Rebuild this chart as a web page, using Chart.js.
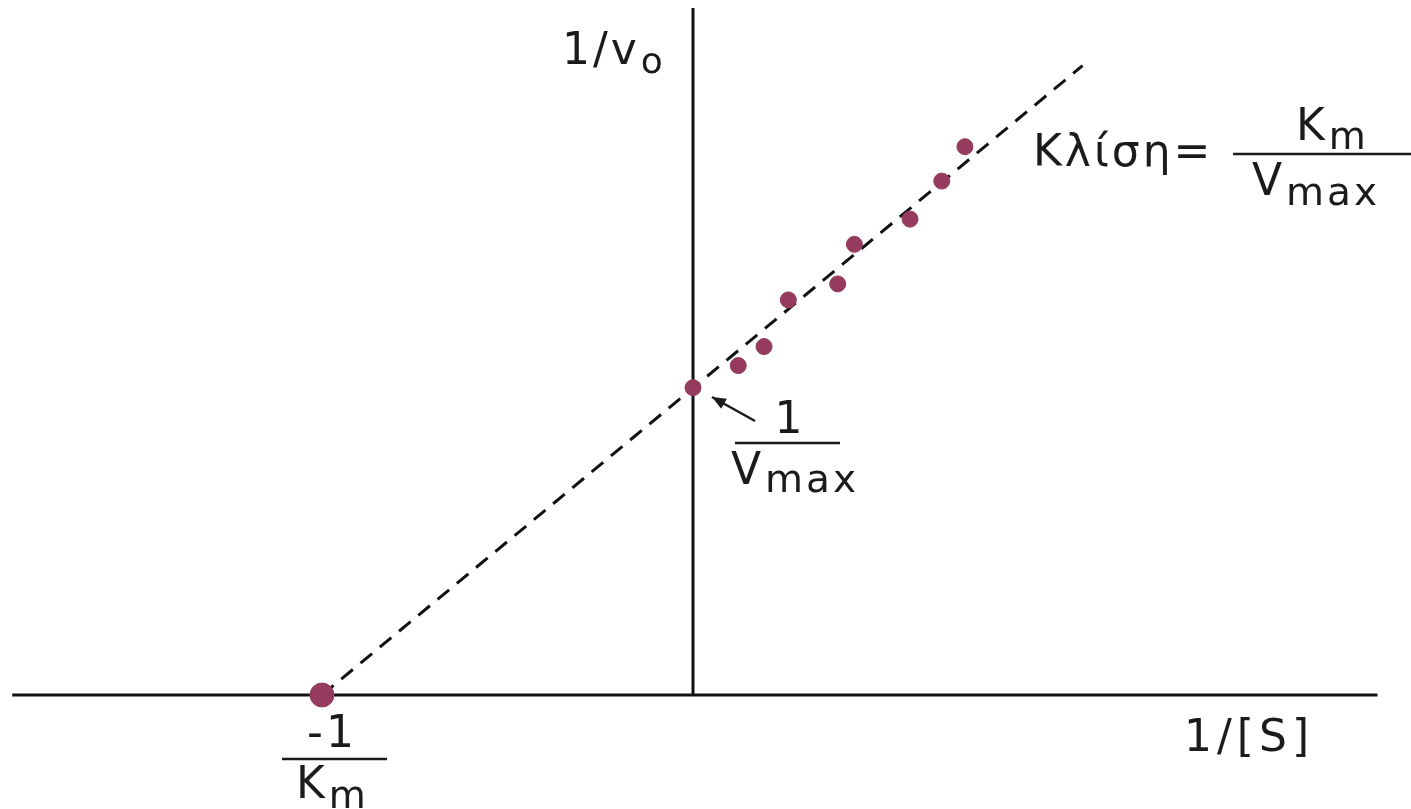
<!DOCTYPE html>
<html>
<head>
<meta charset="utf-8">
<script src="https://cdn.jsdelivr.net/npm/chart.js@4"></script>
<style>
  html, body { margin: 0; padding: 0; background: #fff; }
  #wrap { width: 1411px; height: 809px; }
</style>
</head>
<body>
<div id="wrap"><canvas id="chart" width="1411" height="809"></canvas></div>
<script>
// measured points (1/[S], 1/v0)
const invS = [0, 0.244, 0.383, 0.514, 0.780, 0.870, 1.170, 1.341, 1.466];
const invV = [1.001, 1.073, 1.135, 1.287, 1.339, 1.468, 1.550, 1.674, 1.786];
// x intercept (-1/Km)
const interceptX = [-2];
const interceptY = [0];
// dashed fit line ends
const fitX = [-2, 2.10];
const fitY = [0, 2.05];
// axis line extents
const xAxisX = [-3.67, 3.69];
const yAxisY = [0, 2.238];

const FONT = '"DejaVu Sans", Verdana, sans-serif';
const INK = '#1b1b1b';
const DOT = '#963b5e';

function pts(xs, ys) {
    return xs.map((x, i) => ({ x: x, y: ys[i] }));
}

function drawSub(ctx, main, sub, x, y, size, subSize, drop) {
    ctx.font = size + 'px ' + FONT;
    ctx.fillText(main, x, y);
    const w = ctx.measureText(main).width;
    ctx.font = subSize + 'px ' + FONT;
    ctx.fillText(sub, x + w + 1, y + drop);
}

function bar(ctx, x1, x2, y) {
    ctx.beginPath();
    ctx.moveTo(x1, y);
    ctx.lineTo(x2, y);
    ctx.stroke();
}

const labels = {
    id: 'labels',
    afterDraw(chart) {
        const ctx = chart.ctx;
        const ox = chart.scales.x.getPixelForValue(0);
        const oy = chart.scales.y.getPixelForValue(0);
        ctx.save();
        ctx.fillStyle = INK;
        ctx.strokeStyle = INK;
        ctx.lineWidth = 2.5;
        ctx.textAlign = 'left';
        ctx.textBaseline = 'alphabetic';
        ctx.letterSpacing = '3px';

        // y axis title
        drawSub(ctx, '1/v', 'o', ox - 131, 64, 44, 36, 9);
        // x axis title
        ctx.letterSpacing = '5px';
        ctx.font = '44px ' + FONT;
        ctx.fillText('1/[S]', ox + 491, oy + 56);
        ctx.letterSpacing = '3px';

        // -1/Km
        ctx.textAlign = 'center';
        ctx.font = '44px ' + FONT;
        ctx.fillText('-1', ox - 361, oy + 52);
        ctx.textAlign = 'left';
        bar(ctx, ox - 411, ox - 306, oy + 64);
        drawSub(ctx, 'K', 'm', ox - 397, oy + 103, 44, 38, 10);

        // 1/Vmax with arrow
        ctx.textAlign = 'center';
        ctx.font = '44px ' + FONT;
        ctx.fillText('1', ox + 97, 433);
        ctx.textAlign = 'left';
        bar(ctx, ox + 42, ox + 147, 443);
        drawSub(ctx, 'V', 'max', ox + 38, 484, 44, 39, 8);

        const ax1 = ox + 62, ay1 = 421, ax2 = ox + 19, ay2 = 397;
        ctx.beginPath();
        ctx.moveTo(ax1, ay1);
        ctx.lineTo(ax2, ay2);
        ctx.stroke();
        const ang = Math.atan2(ay2 - ay1, ax2 - ax1);
        ctx.beginPath();
        ctx.moveTo(ax2, ay2);
        ctx.lineTo(ax2 - 15 * Math.cos(ang - 0.4), ay2 - 15 * Math.sin(ang - 0.4));
        ctx.lineTo(ax2 - 15 * Math.cos(ang + 0.4), ay2 - 15 * Math.sin(ang + 0.4));
        ctx.closePath();
        ctx.fill();

        // slope
        ctx.font = '44px ' + FONT;
        ctx.fillText('Κλίση=', ox + 340, 166);
        bar(ctx, ox + 540, ox + 718, 154);
        drawSub(ctx, 'K', 'm', ox + 603, 140, 44, 38, 9);
        drawSub(ctx, 'V', 'max', ox + 559, 195, 44, 39, 10);

        ctx.restore();
    }
};

new Chart(document.getElementById('chart'), {
    type: 'scatter',
    data: {
        datasets: [
            {
                label: 'points',
                data: pts(invS, invV),
                backgroundColor: DOT,
                borderColor: DOT,
                pointRadius: 8,
                pointHoverRadius: 8,
                order: 1
            },
            {
                label: 'intercept',
                data: pts(interceptX, interceptY),
                backgroundColor: DOT,
                borderColor: DOT,
                pointRadius: 12,
                pointHoverRadius: 12,
                order: 1
            },
            {
                type: 'line',
                label: 'fit',
                data: pts(fitX, fitY),
                borderColor: '#111',
                borderWidth: 3,
                borderDash: [15, 10],
                pointRadius: 0,
                fill: false,
                order: 2
            },
            {
                type: 'line',
                label: 'x axis',
                data: pts(xAxisX, [0, 0]),
                borderColor: '#111',
                borderWidth: 3,
                pointRadius: 0,
                fill: false,
                order: 3
            },
            {
                type: 'line',
                label: 'y axis',
                data: pts([0, 0], yAxisY),
                borderColor: '#111',
                borderWidth: 3,
                pointRadius: 0,
                fill: false,
                order: 3
            }
        ]
    },
    options: {
        responsive: false,
        animation: false,
        layout: {
            autoPadding: false,
            padding: { left: 6.65, right: 31.65, top: 4.25, bottom: 6.55 }
        },
        plugins: {
            legend: { display: false },
            title: { display: false },
            tooltip: { enabled: false }
        },
        scales: {
            x: { type: 'linear', min: -3.7, max: 3.7, display: false },
            y: { type: 'linear', min: -0.35, max: 2.25, display: false }
        }
    },
    plugins: [labels]
});
</script>
</body>
</html>
